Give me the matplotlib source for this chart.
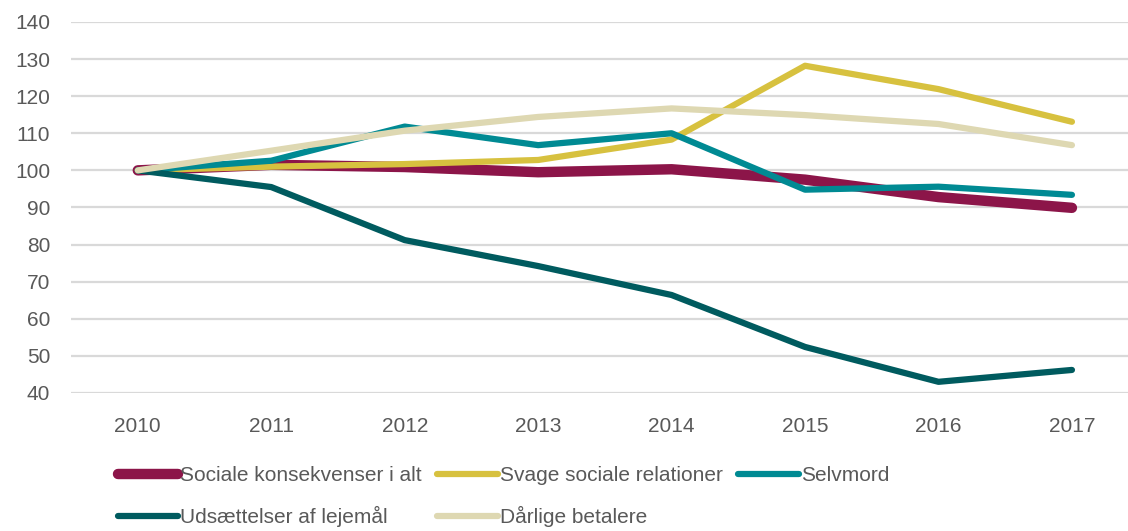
import matplotlib
matplotlib.use('Agg')
import matplotlib.pyplot as plt

years = ['2010', '2011', '2012', '2013', '2014', '2015', '2016', '2017']
sociale = [100, 101.5, 100.9, 99.5, 100.3, 97.5, 92.8, 89.9]
svage = [100, 101.0, 101.7, 102.8, 108.3, 128.2, 121.9, 113.1]
selvmord = [100, 102.6, 111.8, 106.8, 110.0, 94.8, 95.6, 93.4]
udsaet = [100, 95.5, 81.2, 74.2, 66.4, 52.4, 43.0, 46.2]
daarlige = [100, 105.3, 110.7, 114.4, 116.7, 114.9, 112.5, 106.8]

names = ['Sociale konsekvenser i alt', 'Svage sociale relationer', 'Selvmord',
         'Udsættelser af lejemål', 'Dårlige betalere']
colors = ['#8C1549', '#D7C13F', '#008A93', '#005B5F', '#DED8B2']
widths = [7.5, 4.5, 4.5, 4.5, 4.5]

plt.rcParams['font.family'] = ['Liberation Sans', 'DejaVu Sans']

fig = plt.figure(figsize=(11.28, 5.31), dpi=100)
ax = fig.add_axes([0.063, 0.26, 0.937, 0.6986])

x = list(range(len(years)))
lines = []
for vals, name, c, w in zip([sociale, svage, selvmord, udsaet, daarlige], names, colors, widths):
    ln, = ax.plot(x, vals, color=c, lw=w, solid_capstyle='round', solid_joinstyle='round', label=name)
    lines.append(ln)

ax.set_ylim(40, 140)
ax.set_yticks(range(40, 141, 10))
ax.set_xlim(-0.5, 7.42)
ax.set_xticks(x)
ax.set_xticklabels(years)
ax.grid(axis='y', color='#D9D9D9', lw=1.6)
ax.set_axisbelow(True)
for s in ax.spines.values():
    s.set_visible(False)
ax.tick_params(length=0, labelsize=15, colors='#595959')
ax.tick_params(axis='x', pad=17)
ax.tick_params(axis='y', pad=15)

# order so rows read a,b,c / d,e
order = [0, 3, 1, 4, 2]
leg = fig.legend([lines[i] for i in order], [names[i] for i in order],
                 loc='upper left', bbox_to_anchor=(0.097, 0.138), ncol=3, frameon=False,
                 fontsize=15, handlelength=2.9, handletextpad=0.1, columnspacing=0.75,
                 labelspacing=1.02, borderaxespad=0)
for t in leg.get_texts():
    t.set_color('#595959')

fig.savefig('out.png', dpi=100)
